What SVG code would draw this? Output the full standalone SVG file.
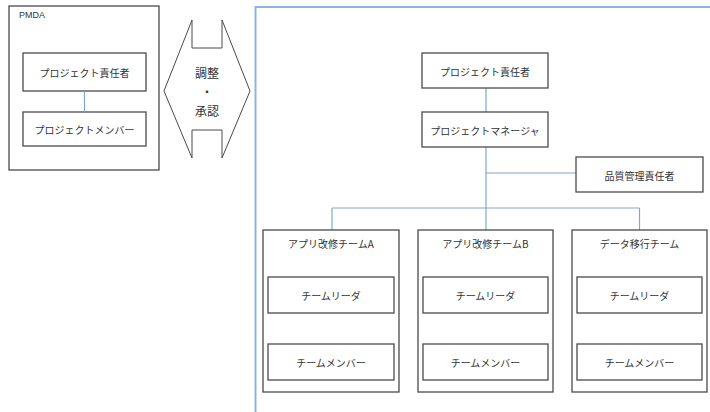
<svg xmlns="http://www.w3.org/2000/svg" width="710" height="412" viewBox="0 0 710 412">
<style>
.box{fill:#fff;stroke:#4a4a4a;stroke-width:1.3}
.frame{fill:none;stroke:#4a4a4a;stroke-width:1.3}
.conn{fill:none;stroke:#7fa7cf;stroke-width:1.2}
text{font-family:"Noto Sans CJK JP","Noto Sans",sans-serif;font-size:10px;fill:#333;text-anchor:middle;dominant-baseline:central}
</style>
<rect width="710" height="412" fill="#fff"/>
<g id="pmda">
<rect class="frame" x="9" y="6" width="150" height="164"/>
<text x="19" y="15" style="text-anchor:start;font-family:'Liberation Sans',sans-serif;font-size:9px">PMDA</text>
</g>
<g id="pmda-lead"><rect class="box" x="23" y="53" width="123" height="38"/><text x="84.5" y="72">プロジェクト責任者</text></g>
<g id="pmda-member"><rect class="box" x="23" y="112" width="123" height="34"/><text x="84.5" y="129">プロジェクトメンバー</text></g>
<g id="exchange">
<polygon points="192,20 192,48 222,48 222,20 250,91 222,158 222,130 192,130 192,158 164,91" fill="#fff" stroke="#4a4a4a" stroke-width="1"/>
<text x="207" y="72" style="font-size:12px">調整</text>
<text x="207" y="91" style="font-size:12px">・</text>
<text x="207" y="110" style="font-size:12px">承認</text>
</g>
<g id="vendor"><path d="M710,7 H255.5 V412" fill="none" stroke="#8fb4dc" stroke-width="2"/></g>
<g id="connectors">
<line class="conn" x1="84.5" y1="91" x2="84.5" y2="112"/>
<line class="conn" x1="486" y1="88" x2="486" y2="112"/>
<line class="conn" x1="486" y1="147" x2="486" y2="230"/>
<line class="conn" x1="486" y1="173" x2="576" y2="173"/>
<line class="conn" x1="332" y1="208" x2="639.5" y2="208"/>
<line class="conn" x1="332" y1="208" x2="332" y2="230"/>
<line class="conn" x1="639.5" y1="208" x2="639.5" y2="230"/>
<line class="conn" x1="331" y1="313" x2="331" y2="344"/>
<line class="conn" x1="485.5" y1="313" x2="485.5" y2="344"/>
<line class="conn" x1="639.5" y1="313" x2="639.5" y2="344"/>
</g>
<g id="owner"><rect class="box" x="422" y="53" width="126" height="35"/><text x="485" y="71">プロジェクト責任者</text></g>
<g id="pm"><rect class="box" x="422" y="112" width="126" height="35"/><text x="485" y="130">プロジェクトマネージャ</text></g>
<g id="qa"><rect class="box" x="576" y="157" width="127" height="35"/><text x="639.5" y="175">品質管理責任者</text></g>
<g id="team-a"><rect class="box" x="263" y="230" width="136" height="162"/><text x="331" y="243">アプリ改修チームA</text></g>
<g id="team-a-leader"><rect class="box" x="268" y="277" width="126" height="36"/><text x="331" y="295">チームリーダ</text></g>
<g id="team-a-member"><rect class="box" x="268" y="344" width="126" height="36"/><text x="331" y="362">チームメンバー</text></g>
<g id="team-b"><rect class="box" x="418" y="230" width="135" height="162"/><text x="485.5" y="243">アプリ改修チームB</text></g>
<g id="team-b-leader"><rect class="box" x="423" y="277" width="125" height="36"/><text x="485.5" y="295">チームリーダ</text></g>
<g id="team-b-member"><rect class="box" x="423" y="344" width="125" height="36"/><text x="485.5" y="362">チームメンバー</text></g>
<g id="team-c"><rect class="box" x="572" y="230" width="135" height="162"/><text x="639.5" y="243">データ移行チーム</text></g>
<g id="team-c-leader"><rect class="box" x="577" y="277" width="125" height="36"/><text x="639.5" y="295">チームリーダ</text></g>
<g id="team-c-member"><rect class="box" x="577" y="344" width="125" height="36"/><text x="639.5" y="362">チームメンバー</text></g>
</svg>
